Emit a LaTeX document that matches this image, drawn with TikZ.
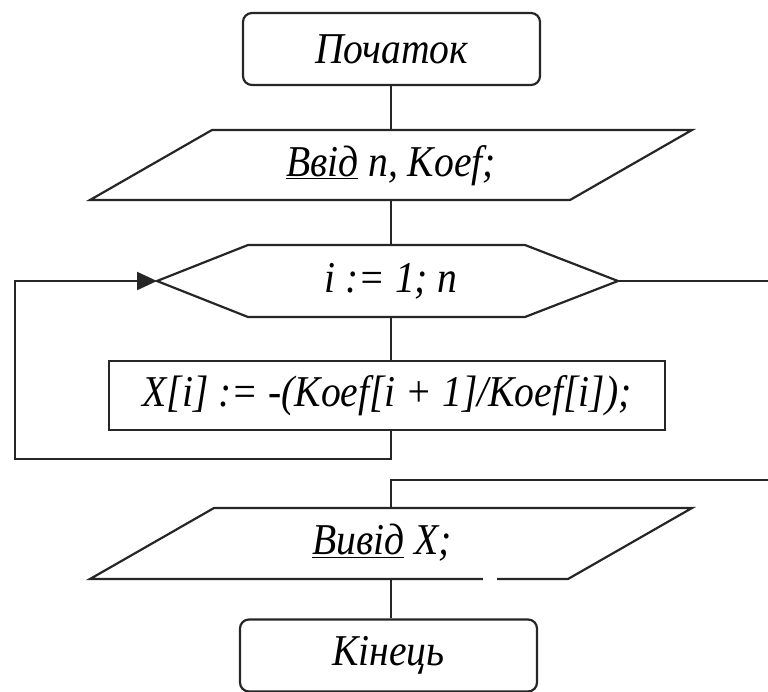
\documentclass[tikz,border=0pt]{standalone}
\usepackage{fontspec}
\setmainfont{Liberation Serif}[FakeStretch=0.9]
\usetikzlibrary{arrows.meta}
\begin{document}
\begin{tikzpicture}[x=1pt,y=-1pt,
  ln/.style={line width=2.2pt, draw=black!85},
  txt/.style={font=\fontsize{44}{50}\selectfont\itshape, inner sep=0pt},
  term/.style={ln, rounded corners=9pt, txt, minimum width=297pt, minimum height=72pt},
  proc/.style={ln, txt, minimum width=556pt, minimum height=69pt}]
\useasboundingbox (0,0) rectangle (768,691);
% start
\node[term] (start) at (391.5,49) {Початок};
% input parallelogram
\coordinate (i1a) at (212,130); \coordinate (i1b) at (692,130);
\coordinate (i1c) at (570,200); \coordinate (i1d) at (90,200);
\draw[ln] (i1a) -- (i1b) -- (i1c) -- (i1d) -- cycle;
\node[txt] (in1) at (391,166) {\underline{Ввід} n, Koef;};
\coordinate (in1top) at (391,130); \coordinate (in1bot) at (391,200);
% loop hexagon
\coordinate (hl) at (157,281); \coordinate (hr) at (618,281);
\draw[ln] (hl) -- (248,245) -- (525,245) -- (hr) -- (525,317) -- (248,317) -- cycle;
\node[txt] (loop) at (391,281) {i := 1; n};
\coordinate (looptop) at (391,245); \coordinate (loopbot) at (391,317);
% process
\node[proc] (proc) at (387,395.5) {X[i] := -(Koef[i + 1]/Koef[i]);};
\coordinate (proctop) at (391,361); \coordinate (procbot) at (391,430);
% output parallelogram
\coordinate (o1a) at (214,508); \coordinate (o1b) at (692,508);
\coordinate (o1c) at (568,579); \coordinate (o1d) at (90,579);
\draw[ln] (o1a) -- (o1b) -- (o1c) -- (o1d) -- cycle;
\fill[white] (483,575) rectangle (497,584);
\node[txt] (out1) at (382,543) {\underline{Вивід} X;};
\coordinate (outtop) at (391,508); \coordinate (outbot) at (391,579);
% end
\node[term] (end) at (388.5,655.5) {Кінець};
% connectors
\draw[ln] (start.south -| in1top) -- (in1top);
\draw[ln] (in1bot) -- (looptop);
\draw[ln] (loopbot) -- (proctop);
\coordinate (lb1) at (391,459); \coordinate (lb2) at (15,459); \coordinate (lb3) at (15,281);
\draw[ln, -{Triangle[length=20pt,width=18pt]}] (procbot) -- (lb1) -- (lb2) -- (lb3) -- (hl);
\coordinate (exitR) at (768,281);
\draw[ln] (hr) -- (exitR);
\coordinate (retR) at (768,480); \coordinate (ret1) at (391,480);
\draw[ln] (retR) -- (ret1) -- (outtop);
\draw[ln] (outbot) -- (end.north -| outbot);
\end{tikzpicture}
\end{document}
